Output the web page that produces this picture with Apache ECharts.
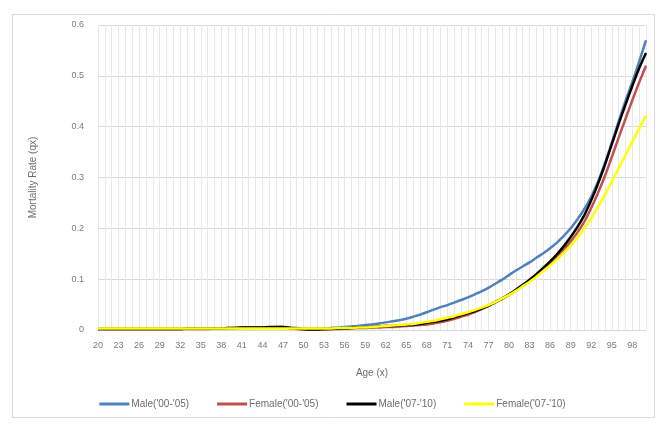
<!DOCTYPE html>
<html>
<head>
<meta charset="utf-8">
<script src="https://cdn.jsdelivr.net/npm/echarts@6/dist/echarts.min.js"></script>
<style>
  html, body { margin: 0; padding: 0; background: #fff; }
  #chart { width: 665px; height: 427px; }
</style>
</head>
<body>
<div id="chart"></div>
<script>
// Ages 20..100
const ages = [];
for (let a = 20; a <= 100; a++) ages.push(String(a));

const seriesNames = ["Male('00-'05)", "Female('00-'05)", "Male('07-'10)", "Female('07-'10)"];

// Mortality rate qx by age (20..100)
const male0005 = [
  0.002, 0.002, 0.002, 0.002, 0.002, 0.002, 0.002, 0.002, 0.002, 0.002,
  0.002, 0.002, 0.002, 0.003, 0.003, 0.003, 0.003, 0.003, 0.003, 0.004,
  0.004, 0.005, 0.005, 0.005, 0.005, 0.005, 0.006, 0.006, 0.005, 0.004,
  0.003, 0.003, 0.003, 0.003, 0.004, 0.005, 0.006, 0.007, 0.008, 0.010,
  0.011, 0.013, 0.015, 0.017, 0.019, 0.022, 0.026, 0.030, 0.035, 0.040,
  0.045, 0.049, 0.054, 0.059, 0.064, 0.070, 0.076, 0.083, 0.091, 0.099,
  0.108, 0.117, 0.125, 0.133, 0.142, 0.151, 0.161, 0.172, 0.185, 0.200,
  0.218, 0.238, 0.262, 0.292, 0.328, 0.368, 0.410, 0.450, 0.488, 0.528,
  0.570
];
const female0005 = [
  0.002, 0.002, 0.002, 0.002, 0.002, 0.002, 0.002, 0.002, 0.002, 0.002,
  0.002, 0.002, 0.002, 0.002, 0.002, 0.002, 0.002, 0.003, 0.003, 0.003,
  0.004, 0.004, 0.004, 0.005, 0.005, 0.005, 0.005, 0.005, 0.003, 0.002,
  0.001, 0.001, 0.001, 0.001, 0.002, 0.002, 0.003, 0.003, 0.004, 0.004,
  0.005, 0.005, 0.006, 0.006, 0.007, 0.008, 0.009, 0.010, 0.011, 0.013,
  0.015, 0.018, 0.022, 0.026, 0.030, 0.035, 0.041, 0.047, 0.054, 0.061,
  0.069, 0.078, 0.087, 0.097, 0.108, 0.119, 0.131, 0.144, 0.158, 0.174,
  0.192, 0.213, 0.240, 0.270, 0.303, 0.340, 0.378, 0.415, 0.452, 0.487,
  0.520
];
const male0710 = [
  0.002, 0.002, 0.002, 0.002, 0.002, 0.002, 0.002, 0.002, 0.002, 0.002,
  0.002, 0.002, 0.002, 0.003, 0.003, 0.003, 0.003, 0.003, 0.003, 0.004,
  0.004, 0.005, 0.005, 0.005, 0.005, 0.006, 0.006, 0.006, 0.004, 0.003,
  0.002, 0.001, 0.001, 0.002, 0.002, 0.003, 0.003, 0.004, 0.005, 0.005,
  0.006, 0.007, 0.008, 0.008, 0.009, 0.010, 0.010, 0.012, 0.014, 0.016,
  0.018, 0.021, 0.025, 0.029, 0.033, 0.037, 0.042, 0.048, 0.055, 0.062,
  0.070, 0.079, 0.089, 0.099, 0.110, 0.122, 0.135, 0.149, 0.165, 0.183,
  0.203, 0.226, 0.255, 0.288, 0.325, 0.365, 0.405, 0.443, 0.480, 0.515,
  0.545
];
const female0710 = [
  0.003, 0.003, 0.003, 0.003, 0.003, 0.003, 0.003, 0.003, 0.003, 0.003,
  0.003, 0.003, 0.003, 0.003, 0.003, 0.003, 0.003, 0.003, 0.003, 0.003,
  0.003, 0.003, 0.003, 0.003, 0.003, 0.003, 0.003, 0.003, 0.003, 0.003,
  0.003, 0.003, 0.003, 0.003, 0.003, 0.004, 0.004, 0.004, 0.005, 0.005,
  0.006, 0.007, 0.008, 0.009, 0.010, 0.011, 0.012, 0.014, 0.016, 0.018,
  0.021, 0.024, 0.027, 0.031, 0.035, 0.039, 0.044, 0.049, 0.055, 0.062,
  0.069, 0.077, 0.086, 0.095, 0.105, 0.116, 0.127, 0.139, 0.152, 0.166,
  0.182, 0.200, 0.220, 0.242, 0.266, 0.292, 0.318, 0.344, 0.370, 0.396,
  0.422
];

const yTicks = { min: 0, max: 0.6, interval: 0.1 };
const colors = ['#4f81bd', '#c0504d', '#000000', '#ffff00'];

const chart = echarts.init(document.getElementById('chart'), null, { renderer: 'canvas' });

function lineSeries(name, data, color, z) {
  return {
    name: name,
    type: 'line',
    data: data,
    smooth: 0.3,
    symbol: 'none',
    z: z,
    lineStyle: { color: color, width: 2.5 },
    itemStyle: { color: color }
  };
}

chart.setOption({
  animation: false,
  backgroundColor: '#ffffff',
  textStyle: { fontFamily: 'Liberation Sans, Arial, sans-serif' },
  graphic: [{
    type: 'rect',
    shape: { x: 12.5, y: 14.5, width: 642, height: 403 },
    style: { fill: 'none', stroke: '#d9d9d9', lineWidth: 1 },
    silent: true
  }],
  grid: { left: 98, right: 19, top: 25, bottom: 97 },
  legend: {
    bottom: 13,
    left: 'center',
    itemWidth: 30,
    itemHeight: 3,
    itemGap: 28,
    icon: 'rect',
    textStyle: { color: '#6e6e6e', fontSize: 10, padding: [0, 0, 0, -3] },
    data: seriesNames
  },
  xAxis: {
    type: 'category',
    data: ages,
    boundaryGap: false,
    name: 'Age (x)',
    nameLocation: 'middle',
    nameGap: 38,
    nameTextStyle: { color: '#6e6e6e', fontSize: 10 },
    axisLine: { show: true, lineStyle: { color: '#d9d9d9' } },
    axisTick: { show: false },
    axisLabel: { interval: 2, color: '#7a7a7a', fontSize: 9, margin: 11 },
    splitLine: { show: true, interval: 0, lineStyle: { color: '#e8e8e8', width: 1 } }
  },
  yAxis: {
    type: 'value',
    min: yTicks.min,
    max: yTicks.max,
    interval: yTicks.interval,
    name: 'Mortality Rate (qx)',
    nameLocation: 'middle',
    nameGap: 60,
    nameTextStyle: { color: '#6e6e6e', fontSize: 10 },
    axisLine: { show: false },
    axisTick: { show: false },
    axisLabel: { color: '#7a7a7a', fontSize: 9, margin: 14 },
    splitLine: { show: true, lineStyle: { color: '#d9d9d9', width: 1 } }
  },
  series: [
    lineSeries(seriesNames[0], male0005, colors[0], 2),
    lineSeries(seriesNames[1], female0005, colors[1], 3),
    lineSeries(seriesNames[2], male0710, colors[2], 4),
    lineSeries(seriesNames[3], female0710, colors[3], 5)
  ]
});
</script>
</body>
</html>
